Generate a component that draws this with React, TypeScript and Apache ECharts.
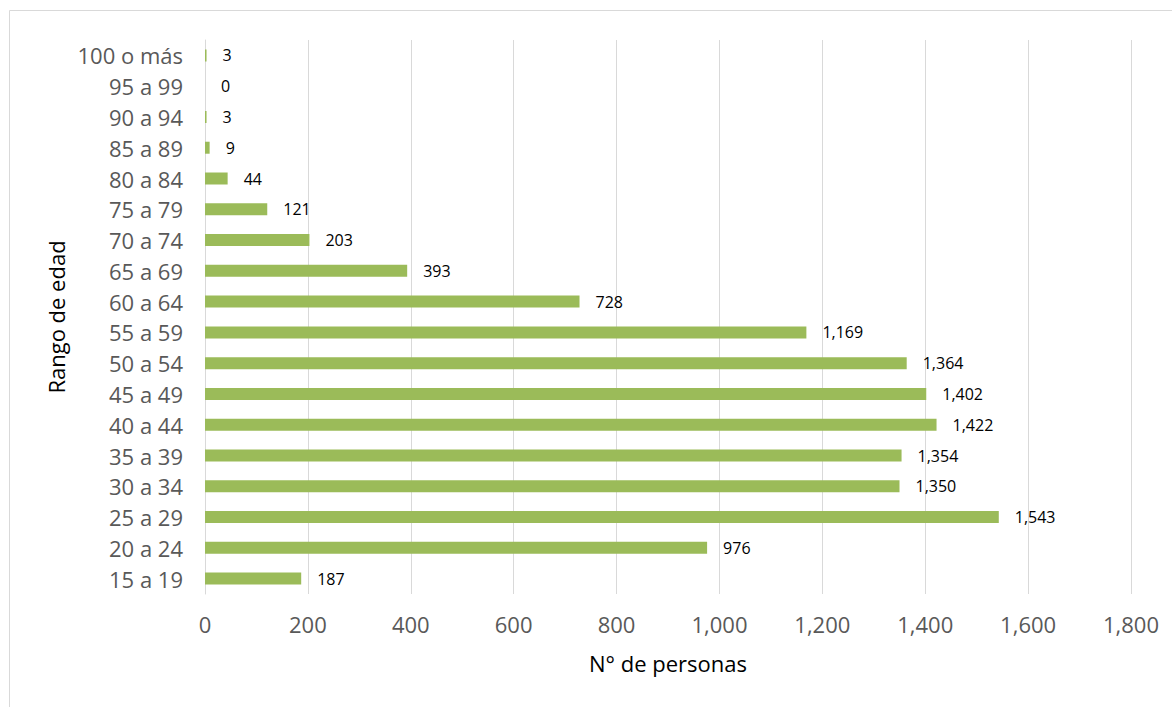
import React, { useEffect, useRef } from "react";
import * as echarts from "echarts";

const categories = [
  "15 a 19", "20 a 24", "25 a 29", "30 a 34", "35 a 39", "40 a 44", "45 a 49",
  "50 a 54", "55 a 59", "60 a 64", "65 a 69", "70 a 74", "75 a 79", "80 a 84",
  "85 a 89", "90 a 94", "95 a 99", "100 o más",
];
const values = [187, 976, 1543, 1350, 1354, 1422, 1402, 1364, 1169, 728, 393, 203, 121, 44, 9, 3, 0, 3];
const xTicks = { min: 0, max: 1800, interval: 200 };

const FONT = "'Open Sans', sans-serif";

export default function App() {
  const ref = useRef<HTMLDivElement>(null);
  useEffect(() => {
    document.body.style.margin = "0";
    const chart = echarts.init(ref.current!, null, { renderer: "svg" });
    chart.setOption({
      animation: false,
      backgroundColor: "#ffffff",
      graphic: [
        {
          type: "rect",
          shape: { x: 9.5, y: 10.5, width: 1175, height: 710 },
          style: { fill: "none", stroke: "#d9d9d9", lineWidth: 1 },
          silent: true,
        },
      ],
      grid: { left: 205, right: 41, top: 40, bottom: 113 },
      xAxis: {
        type: "value",
        min: xTicks.min,
        max: xTicks.max,
        interval: xTicks.interval,
        name: "N° de personas",
        nameLocation: "middle",
        nameGap: 58,
        nameTextStyle: { fontFamily: FONT, fontSize: 22, color: "#000000" },
        axisLine: { show: false },
        axisTick: { show: false },
        axisLabel: {
          fontFamily: FONT,
          fontSize: 22,
          color: "#595959",
          margin: 19,
          formatter: (v: number) => v.toLocaleString("en-US"),
        },
        splitLine: { show: true, lineStyle: { color: "#d9d9d9", width: 1 } },
      },
      yAxis: {
        type: "category",
        data: categories,
        name: "Rango de edad",
        nameLocation: "middle",
        nameGap: 132,
        nameRotate: 90,
        nameTextStyle: { fontFamily: FONT, fontSize: 22, color: "#000000" },
        axisLine: { show: true, lineStyle: { color: "#d9d9d9", width: 1 } },
        axisTick: { show: false },
        axisLabel: { fontFamily: FONT, fontSize: 22, color: "#595959", margin: 22 },
      },
      series: [
        {
          type: "bar",
          data: values,
          barWidth: 12,
          itemStyle: { color: "#9bbb59" },
          label: {
            show: true,
            position: "right",
            distance: 16,
            fontFamily: FONT,
            fontSize: 16,
            color: "#000000",
            formatter: (p: any) => Number(p.value).toLocaleString("en-US"),
          },
        },
      ],
    });
    return () => chart.dispose();
  }, []);
  return <div ref={ref} style={{ width: 1172, height: 707 }} />;
}
